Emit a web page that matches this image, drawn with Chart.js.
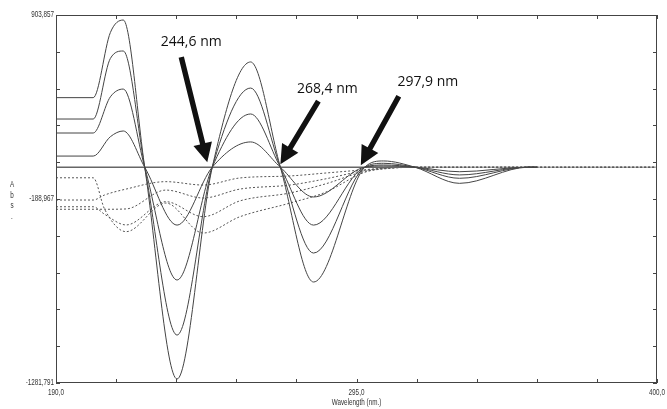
<!DOCTYPE html>
<html>
<head>
<meta charset="utf-8">
<script src="https://cdn.jsdelivr.net/npm/chart.js@4"></script>
<style>
  html, body { margin: 0; padding: 0; background: #fff; }
  #wrap { width: 667px; height: 409px; }
</style>
</head>
<body>
<div id="wrap"><canvas id="myChart" width="667" height="409"></canvas></div>
<script>
// solid spectra (wavelength in nm)
const solidNm = [190, 203, 209, 213.5, 221, 232.3, 244.6, 258, 268.4, 280, 297.9, 304.5, 315.4, 331, 355, 358];
const solid1 = [413, 413, 800, 874, 0, -1258, 0, 625, 0, -682, 0, 37, 0, -96, 0, 0];
const solid2 = [286, 286, 646, 690, 0, -997, 0, 470, 0, -510, 0, 23, 0, -66, 0, 0];
const solid3 = [203, 203, 418, 464, 0, -670, 0, 316, 0, -344, 0, 13, 0, -46, 0, 0];
const solid4 = [66, 66, 181, 215, 0, -344, 0, 150, 0, -177, 0, 7, 0, -27, 0, 0];

// dotted spectra
const dottedNm = [190, 203, 207, 214.5, 228.4, 241.4, 254.3, 271.8, 284, 297.9, 306, 318, 400];
const dotted1 = [-63, -63, -250, -383, -213, -391, -294, -213, -150, -30, -8, 0, 0];
const dotted2 = [-195, -195, -165, -130, -86, -106, -64, -52, -35, -15, -4, 0, 0];
const dotted3 = [-235, -235, -280, -343, -205, -294, -200, -153, -100, -25, -6, 0, 0];
const dotted4 = [-250, -250, -250, -248, -136, -183, -130, -106, -70, -20, -5, 0, 0];

const zeroNm = [190, 316];
const zeroLine = [0, 0];

const xTicks = [190, 211, 232, 253, 274, 295, 316, 337, 358, 379, 400];
const xTickLabels = ['190,0', '295,0', '400,0'];
const yMin = -1281.791;
const yMax = 903.857;
const yTickLabels = ['-1281,791', '-188,967', '903,857'];
const xTitle = 'Wavelength (nm.)';
const yTitle = 'Abs.';

const crossings = [244.6, 268.4, 297.9];
const crossingLabels = ['244,6 nm', '268,4 nm', '297,9 nm'];

// arrow tip / tail / text offsets in px, relative to the crossing point
const notes = [
  { tip: [-5, -5], tail: [-26, -105], text: [-21, -125] },
  { tip: [0, -3], tail: [38, -63], text: [47, -78] },
  { tip: [-4, -2], tail: [38, -69], text: [63, -85] }
];

const smallFont = "9px 'Liberation Sans', Arial, sans-serif";

function pts(xs, ys) {
  return xs.map((v, i) => ({ x: v, y: ys[i] }));
}
function solid(data) {
  return { data: data, borderColor: '#444', borderWidth: 1, pointRadius: 0, cubicInterpolationMode: 'monotone' };
}
function dotted(data) {
  return { data: data, borderColor: '#555', borderWidth: 1, borderDash: [2, 2], pointRadius: 0, cubicInterpolationMode: 'monotone' };
}

// narrow text like the instrument software
function narrow(ctx, text, x, y, align) {
  ctx.save();
  ctx.translate(x, y);
  ctx.scale(0.7, 1);
  ctx.textAlign = align;
  ctx.fillText(text, 0, 0);
  ctx.restore();
}

const decor = {
  id: 'decor',
  afterDatasetsDraw(chart) {
    const { ctx, chartArea: a, scales: { x, y } } = chart;
    ctx.save();
    ctx.strokeStyle = '#444';
    ctx.lineWidth = 1;
    ctx.strokeRect(a.left + 0.5, a.top + 0.5, a.right - a.left - 1, a.bottom - a.top - 1);
    ctx.beginPath();
    x.ticks.forEach(t => {
      const px = Math.round(x.getPixelForValue(t.value)) + 0.5;
      ctx.moveTo(px, a.bottom); ctx.lineTo(px, a.bottom - 4);
      ctx.moveTo(px, a.top); ctx.lineTo(px, a.top + 4);
    });
    y.ticks.forEach(t => {
      const py = Math.round(y.getPixelForValue(t.value)) + 0.5;
      ctx.moveTo(a.left, py); ctx.lineTo(a.left + 4, py);
      ctx.moveTo(a.right, py); ctx.lineTo(a.right - 4, py);
    });
    ctx.stroke();

    // tick labels and axis titles
    ctx.fillStyle = '#333';
    ctx.font = smallFont;
    ctx.textBaseline = 'middle';
    x.ticks.forEach((t, i) => {
      if (i % 5 === 0) narrow(ctx, xTickLabels[i / 5], x.getPixelForValue(t.value), a.bottom + 10, 'center');
    });
    y.ticks.forEach((t, i) => {
      if (i % 5 === 0) narrow(ctx, yTickLabels[i / 5], a.left - 2, y.getPixelForValue(t.value), 'right');
    });
    narrow(ctx, xTitle, (a.left + a.right) / 2, a.bottom + 20, 'center');
    ctx.textBaseline = 'alphabetic';
    yTitle.split('').forEach((c, i) => narrow(ctx, c, 12, 187 + i * 10.5, 'center'));

    // arrows and labels
    ctx.fillStyle = '#111';
    ctx.font = "14px 'Open Sans', sans-serif";
    ctx.textAlign = 'center';
    ctx.textBaseline = 'middle';
    crossings.forEach((nm, i) => {
      const cx = x.getPixelForValue(nm);
      const cy = y.getPixelForValue(0);
      const n = notes[i];
      const tx = cx + n.tip[0], ty = cy + n.tip[1];
      const sx = tx + n.tail[0], sy = ty + n.tail[1];
      const dx = tx - sx, dy = ty - sy;
      const len = Math.hypot(dx, dy);
      const ux = dx / len, uy = dy / len;
      const hl = 19, hw = 9.5, sw = 2.7;
      const bx = tx - ux * hl, by = ty - uy * hl;
      ctx.beginPath();
      ctx.moveTo(sx - uy * sw, sy + ux * sw);
      ctx.lineTo(bx - uy * sw, by + ux * sw);
      ctx.lineTo(bx - uy * hw, by + ux * hw);
      ctx.lineTo(tx, ty);
      ctx.lineTo(bx + uy * hw, by - ux * hw);
      ctx.lineTo(bx + uy * sw, by - ux * sw);
      ctx.lineTo(sx + uy * sw, sy - ux * sw);
      ctx.closePath();
      ctx.fill();
      ctx.fillText(crossingLabels[i], cx + n.text[0], cy + n.text[1]);
    });
    ctx.restore();
  }
};

const ctx = document.getElementById('myChart');

new Chart(ctx, {
  type: 'line',
  data: {
    datasets: [
      solid(pts(solidNm, solid1)),
      solid(pts(solidNm, solid2)),
      solid(pts(solidNm, solid3)),
      solid(pts(solidNm, solid4)),
      { data: pts(zeroNm, zeroLine), borderColor: '#666', borderWidth: 1.5, pointRadius: 0 },
      dotted(pts(dottedNm, dotted1)),
      dotted(pts(dottedNm, dotted2)),
      dotted(pts(dottedNm, dotted3)),
      dotted(pts(dottedNm, dotted4))
    ]
  },
  options: {
    responsive: false,
    animation: false,
    layout: { padding: { top: 15, right: 10, left: 0, bottom: 0 } },
    plugins: { legend: { display: false }, tooltip: { enabled: false } },
    scales: {
      x: {
        type: 'linear',
        min: 190,
        max: 400,
        afterBuildTicks: s => { s.ticks = xTicks.map(v => ({ value: v })); },
        afterFit: s => { s.height = 26; },
        grid: { display: false, drawTicks: false },
        border: { display: false },
        ticks: { display: false }
      },
      y: {
        min: yMin,
        max: yMax,
        afterBuildTicks: s => {
          const t = [];
          for (let i = 0; i <= 10; i++) t.push({ value: yMin + (yMax - yMin) * i / 10 });
          s.ticks = t;
        },
        afterFit: s => { s.width = 56; },
        grid: { display: false, drawTicks: false },
        border: { display: false },
        ticks: { display: false }
      }
    }
  },
  plugins: [decor]
});
</script>
</body>
</html>
